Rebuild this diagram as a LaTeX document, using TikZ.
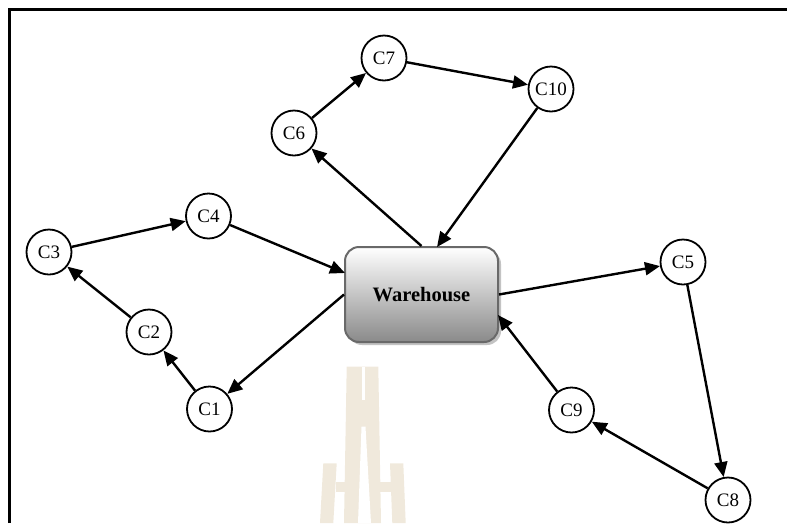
\documentclass[tikz,border=0pt]{standalone}
\usepackage{fontspec}
\setmainfont{Liberation Serif}
\usetikzlibrary{arrows.meta,shadows}

\definecolor{markbeige}{RGB}{240,233,220}
\definecolor{boxedge}{RGB}{105,105,105}
\definecolor{boxbottom}{RGB}{138,138,138}
\definecolor{boxshade}{RGB}{195,195,195}

\begin{document}
\begin{tikzpicture}[x=1pt,y=-1pt,
  cust/.style={circle,draw,line width=1.8pt,minimum size=45pt,inner sep=0pt,
               fill=white,font=\fontsize{19}{21}\selectfont},
  route/.style={line width=2.4pt,-{Triangle[length=15pt,width=13pt]}},
  depot/.style={rectangle,rounded corners=14pt,draw=boxedge,line width=2pt,
                top color=white,bottom color=boxbottom,
                minimum width=153pt,minimum height=95pt,
                drop shadow={shadow xshift=3pt,shadow yshift=-3pt,fill=boxshade,opacity=1},
                font=\fontsize{20.5}{22}\selectfont\bfseries}]
\useasboundingbox (0,0) rectangle (787,523);

% faint tower emblem in the background
\fill[markbeige] (346.7,366.7) -- (378.3,366.7) -- (381,523) -- (344,523) -- cycle;
\fill[white] (361.7,366.7) rectangle (365,400);
\fill[white] (361.5,426.7) -- (365.5,426.7) -- (371,523) -- (358,523) -- cycle;
\fill[markbeige] (323.3,463.3) -- (336.7,463.3) -- (333.3,523) -- (320,523) -- cycle;
\fill[markbeige] (336,481.7) rectangle (347,491.7);
\fill[markbeige] (390,463.3) -- (403.3,463.3) -- (405.7,523) -- (392.3,523) -- cycle;
\fill[markbeige] (379,481.7) rectangle (391,491.7);

% frame
\draw[line width=2.5pt] (9.5,523) -- (9.5,9.5) -- (787,9.5);

% depot
\node[depot] (wh) at (421.5,294.5) {Warehouse};

% customers
\node[cust] (c1) at (209.5,409) {C1};
\node[cust] (c2) at (149,332) {C2};
\node[cust] (c3) at (49,252) {C3};
\node[cust] (c4) at (208.5,216) {C4};
\node[cust] (c6) at (294,133) {C6};
\node[cust] (c7) at (384,58) {C7};
\node[cust] (c10) at (551,89) {C10};
\node[cust] (c5) at (683,262) {C5};
\node[cust] (c9) at (571.5,410) {C9};
\node[cust] (c8) at (728,500) {C8};

% entry points on the depot border
\coordinate (inW) at (345,273);
\coordinate (inN) at (437,247);
\coordinate (inE) at (498,315);

% route 1
\draw[route] (wh.west) -- (c1);
\draw[route] (c1) -- (c2);
\draw[route] (c2) -- (c3);
\draw[route] (c3) -- (c4);
\draw[route] (c4) -- (inW);

% route 2
\draw[route] (wh.north) -- (c6);
\draw[route] (c6) -- (c7);
\draw[route] (c7) -- (c10);
\draw[route] (c10) -- (inN);

% route 3
\draw[route] (wh.east) -- (c5);
\draw[route] (c5) -- (c8);
\draw[route] (c8) -- (c9);
\draw[route] (c9) -- (inE);
\end{tikzpicture}
\end{document}
